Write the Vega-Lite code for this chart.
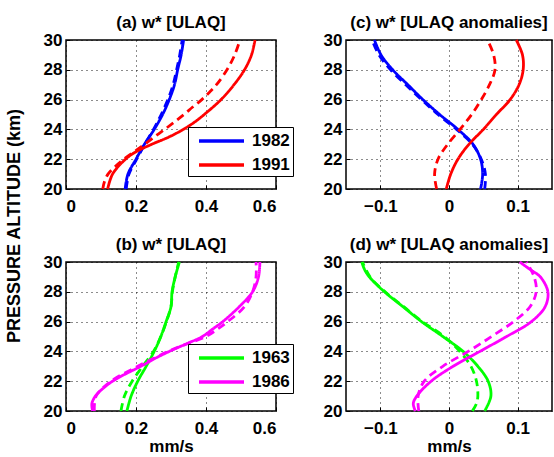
{
 "$schema": "https://vega.github.io/schema/vega-lite/v6.json",
 "background": "white",
 "padding": {"left": 4, "top": 13, "right": 0, "bottom": 0},
 "config": {
  "font": "Liberation Sans",
  "view": {"stroke": "black", "strokeWidth": 1.5},
  "axis": {"labelFont": "Liberation Sans", "labelFontSize": 17, "labelFontWeight": "bold", "labelColor": "black",
   "titleFont": "Liberation Sans", "titleFontSize": 17, "titleFontWeight": "bold", "titleColor": "black",
   "grid": true, "gridColor": "black", "gridDash": [1, 4], "gridWidth": 1, "gridOpacity": 0.9,
   "domain": false, "ticks": true, "tickSize": -4, "tickColor": "black", "tickWidth": 1, "format": "~g"},
  "axisX": {"labelPadding": 13, "titlePadding": 2},
  "axisY": {"labelPadding": 8},
  "title": {"font": "Liberation Sans", "fontSize": 17, "fontWeight": "bold", "color": "black", "frame": "group", "anchor": "middle", "baseline": "alphabetic", "offset": -1},
  "legend": {"orient": "none", "legendX": 122, "legendY": 87, "title": null, "symbolType": "M-0.333,0H4.667", "symbolSize": 324,
   "symbolStrokeWidth": 3.5, "labelFont": "Liberation Sans", "labelFontSize": 17, "labelFontWeight": "bold", "labelColor": "black",
   "labelOffset": 39, "rowPadding": 5, "padding": 3, "strokeColor": "black", "fillColor": "white", "symbolFillColor": "transparent"}
 },
 "datasets": {
  "a": [
   {"year":"1982","run":"R1","alt":20,"w":0.169},{"year":"1982","run":"R1","alt":21,"w":0.177},{"year":"1982","run":"R1","alt":22,"w":0.2},{"year":"1982","run":"R1","alt":23,"w":0.224},{"year":"1982","run":"R1","alt":24,"w":0.252},{"year":"1982","run":"R1","alt":25,"w":0.276},{"year":"1982","run":"R1","alt":26,"w":0.295},{"year":"1982","run":"R1","alt":27,"w":0.31},{"year":"1982","run":"R1","alt":28,"w":0.319},{"year":"1982","run":"R1","alt":29,"w":0.329},{"year":"1982","run":"R1","alt":30,"w":0.336},
   {"year":"1982","run":"R2","alt":20,"w":0.172},{"year":"1982","run":"R2","alt":21,"w":0.18},{"year":"1982","run":"R2","alt":22,"w":0.202},{"year":"1982","run":"R2","alt":23,"w":0.225},{"year":"1982","run":"R2","alt":24,"w":0.25},{"year":"1982","run":"R2","alt":25,"w":0.272},{"year":"1982","run":"R2","alt":26,"w":0.291},{"year":"1982","run":"R2","alt":27,"w":0.306},{"year":"1982","run":"R2","alt":28,"w":0.316},{"year":"1982","run":"R2","alt":29,"w":0.325},{"year":"1982","run":"R2","alt":30,"w":0.332},
   {"year":"1991","run":"R1","alt":20,"w":0.119},{"year":"1991","run":"R1","alt":21,"w":0.133},{"year":"1991","run":"R1","alt":22,"w":0.17},{"year":"1991","run":"R1","alt":22.5,"w":0.2},{"year":"1991","run":"R1","alt":23,"w":0.245},{"year":"1991","run":"R1","alt":23.5,"w":0.295},{"year":"1991","run":"R1","alt":24,"w":0.335},{"year":"1991","run":"R1","alt":24.5,"w":0.368},{"year":"1991","run":"R1","alt":25,"w":0.395},{"year":"1991","run":"R1","alt":26,"w":0.443},{"year":"1991","run":"R1","alt":27,"w":0.48},{"year":"1991","run":"R1","alt":28,"w":0.51},{"year":"1991","run":"R1","alt":29,"w":0.53},{"year":"1991","run":"R1","alt":30,"w":0.54},
   {"year":"1991","run":"R2","alt":20,"w":0.105},{"year":"1991","run":"R2","alt":20.5,"w":0.11},{"year":"1991","run":"R2","alt":21,"w":0.12},{"year":"1991","run":"R2","alt":21.5,"w":0.14},{"year":"1991","run":"R2","alt":22,"w":0.165},{"year":"1991","run":"R2","alt":22.5,"w":0.195},{"year":"1991","run":"R2","alt":23,"w":0.225},{"year":"1991","run":"R2","alt":23.5,"w":0.253},{"year":"1991","run":"R2","alt":24,"w":0.282},{"year":"1991","run":"R2","alt":24.5,"w":0.31},{"year":"1991","run":"R2","alt":25,"w":0.337},{"year":"1991","run":"R2","alt":25.5,"w":0.362},{"year":"1991","run":"R2","alt":26,"w":0.388},{"year":"1991","run":"R2","alt":26.5,"w":0.41},{"year":"1991","run":"R2","alt":27,"w":0.43},{"year":"1991","run":"R2","alt":28,"w":0.46},{"year":"1991","run":"R2","alt":29,"w":0.482},{"year":"1991","run":"R2","alt":30,"w":0.497}
  ],
  "c": [
   {"year":"1982","run":"R1","alt":20,"w":0.046},{"year":"1982","run":"R1","alt":21,"w":0.049},{"year":"1982","run":"R1","alt":22,"w":0.046},{"year":"1982","run":"R1","alt":23,"w":0.035},{"year":"1982","run":"R1","alt":24,"w":0.013},{"year":"1982","run":"R1","alt":25,"w":-0.0136},{"year":"1982","run":"R1","alt":26,"w":-0.038},{"year":"1982","run":"R1","alt":27,"w":-0.06},{"year":"1982","run":"R1","alt":28,"w":-0.082},{"year":"1982","run":"R1","alt":29,"w":-0.099},{"year":"1982","run":"R1","alt":30,"w":-0.1085},
   {"year":"1982","run":"R2","alt":20,"w":0.052},{"year":"1982","run":"R2","alt":21,"w":0.053},{"year":"1982","run":"R2","alt":22,"w":0.047},{"year":"1982","run":"R2","alt":23,"w":0.034},{"year":"1982","run":"R2","alt":24,"w":0.011},{"year":"1982","run":"R2","alt":25,"w":-0.016},{"year":"1982","run":"R2","alt":26,"w":-0.04},{"year":"1982","run":"R2","alt":27,"w":-0.063},{"year":"1982","run":"R2","alt":28,"w":-0.085},{"year":"1982","run":"R2","alt":29,"w":-0.102},{"year":"1982","run":"R2","alt":30,"w":-0.112},
   {"year":"1991","run":"R1","alt":20,"w":-0.004},{"year":"1991","run":"R1","alt":21,"w":0.0025},{"year":"1991","run":"R1","alt":22,"w":0.013},{"year":"1991","run":"R1","alt":23,"w":0.029},{"year":"1991","run":"R1","alt":24,"w":0.05},{"year":"1991","run":"R1","alt":25,"w":0.069},{"year":"1991","run":"R1","alt":26,"w":0.089},{"year":"1991","run":"R1","alt":27,"w":0.102},{"year":"1991","run":"R1","alt":28,"w":0.108},{"year":"1991","run":"R1","alt":29,"w":0.107},{"year":"1991","run":"R1","alt":30,"w":0.098},
   {"year":"1991","run":"R2","alt":20,"w":-0.018},{"year":"1991","run":"R2","alt":21,"w":-0.021},{"year":"1991","run":"R2","alt":22,"w":-0.016},{"year":"1991","run":"R2","alt":23,"w":-0.002},{"year":"1991","run":"R2","alt":24,"w":0.016},{"year":"1991","run":"R2","alt":25,"w":0.033},{"year":"1991","run":"R2","alt":26,"w":0.047},{"year":"1991","run":"R2","alt":27,"w":0.059},{"year":"1991","run":"R2","alt":28,"w":0.067},{"year":"1991","run":"R2","alt":29,"w":0.065},{"year":"1991","run":"R2","alt":30,"w":0.056}
  ],
  "b": [
   {"year":"1963","run":"R1","alt":20,"w":0.174},{"year":"1963","run":"R1","alt":21,"w":0.186},{"year":"1963","run":"R1","alt":22,"w":0.205},{"year":"1963","run":"R1","alt":23,"w":0.229},{"year":"1963","run":"R1","alt":24,"w":0.252},{"year":"1963","run":"R1","alt":25,"w":0.271},{"year":"1963","run":"R1","alt":26,"w":0.286},{"year":"1963","run":"R1","alt":27,"w":0.3},{"year":"1963","run":"R1","alt":28,"w":0.303},{"year":"1963","run":"R1","alt":29,"w":0.312},{"year":"1963","run":"R1","alt":30,"w":0.324},
   {"year":"1963","run":"R2","alt":20,"w":0.157},{"year":"1963","run":"R2","alt":21,"w":0.167},{"year":"1963","run":"R2","alt":22,"w":0.189},{"year":"1963","run":"R2","alt":23,"w":0.219},{"year":"1963","run":"R2","alt":24,"w":0.25},{"year":"1963","run":"R2","alt":25,"w":0.271},{"year":"1963","run":"R2","alt":26,"w":0.287},{"year":"1963","run":"R2","alt":27,"w":0.3},{"year":"1963","run":"R2","alt":28,"w":0.304},{"year":"1963","run":"R2","alt":29,"w":0.312},{"year":"1963","run":"R2","alt":30,"w":0.322},
   {"year":"1986","run":"R1","alt":20,"w":0.076},{"year":"1986","run":"R1","alt":20.5,"w":0.074},{"year":"1986","run":"R1","alt":21,"w":0.084},{"year":"1986","run":"R1","alt":21.5,"w":0.105},{"year":"1986","run":"R1","alt":22,"w":0.133},{"year":"1986","run":"R1","alt":22.5,"w":0.171},{"year":"1986","run":"R1","alt":23,"w":0.214},{"year":"1986","run":"R1","alt":23.5,"w":0.252},{"year":"1986","run":"R1","alt":24,"w":0.295},{"year":"1986","run":"R1","alt":24.5,"w":0.343},{"year":"1986","run":"R1","alt":25,"w":0.39},{"year":"1986","run":"R1","alt":25.5,"w":0.419},{"year":"1986","run":"R1","alt":26,"w":0.448},{"year":"1986","run":"R1","alt":27,"w":0.495},{"year":"1986","run":"R1","alt":28,"w":0.533},{"year":"1986","run":"R1","alt":29,"w":0.55},{"year":"1986","run":"R1","alt":30,"w":0.554},
   {"year":"1986","run":"R2","alt":20,"w":0.081},{"year":"1986","run":"R2","alt":21,"w":0.086},{"year":"1986","run":"R2","alt":22,"w":0.129},{"year":"1986","run":"R2","alt":23,"w":0.205},{"year":"1986","run":"R2","alt":24,"w":0.292},{"year":"1986","run":"R2","alt":24.5,"w":0.345},{"year":"1986","run":"R2","alt":25,"w":0.4},{"year":"1986","run":"R2","alt":25.5,"w":0.433},{"year":"1986","run":"R2","alt":26,"w":0.462},{"year":"1986","run":"R2","alt":27,"w":0.51},{"year":"1986","run":"R2","alt":28,"w":0.533},{"year":"1986","run":"R2","alt":29,"w":0.543},{"year":"1986","run":"R2","alt":30,"w":0.543}
  ],
  "d": [
   {"year":"1963","run":"R1","alt":20,"w":0.052},{"year":"1963","run":"R1","alt":21,"w":0.061},{"year":"1963","run":"R1","alt":22,"w":0.057},{"year":"1963","run":"R1","alt":23,"w":0.042},{"year":"1963","run":"R1","alt":24,"w":0.0205},{"year":"1963","run":"R1","alt":25,"w":-0.009},{"year":"1963","run":"R1","alt":26,"w":-0.04},{"year":"1963","run":"R1","alt":27,"w":-0.067},{"year":"1963","run":"R1","alt":28,"w":-0.094},{"year":"1963","run":"R1","alt":29,"w":-0.116},{"year":"1963","run":"R1","alt":29.5,"w":-0.123},{"year":"1963","run":"R1","alt":30,"w":-0.127},
   {"year":"1963","run":"R2","alt":20,"w":0.034},{"year":"1963","run":"R2","alt":20.5,"w":0.04},{"year":"1963","run":"R2","alt":21,"w":0.042},{"year":"1963","run":"R2","alt":22,"w":0.04},{"year":"1963","run":"R2","alt":23,"w":0.032},{"year":"1963","run":"R2","alt":24,"w":0.0156},{"year":"1963","run":"R2","alt":25,"w":-0.007},{"year":"1963","run":"R2","alt":26,"w":-0.039},{"year":"1963","run":"R2","alt":27,"w":-0.066},{"year":"1963","run":"R2","alt":28,"w":-0.093},{"year":"1963","run":"R2","alt":29,"w":-0.115},{"year":"1963","run":"R2","alt":30,"w":-0.126},
   {"year":"1986","run":"R1","alt":20,"w":-0.049},{"year":"1986","run":"R1","alt":20.5,"w":-0.052},{"year":"1986","run":"R1","alt":21,"w":-0.047},{"year":"1986","run":"R1","alt":22,"w":-0.026},{"year":"1986","run":"R1","alt":23,"w":0.006},{"year":"1986","run":"R1","alt":24,"w":0.045},{"year":"1986","run":"R1","alt":25,"w":0.084},{"year":"1986","run":"R1","alt":26,"w":0.12},{"year":"1986","run":"R1","alt":27,"w":0.14},{"year":"1986","run":"R1","alt":28,"w":0.144},{"year":"1986","run":"R1","alt":29,"w":0.133},{"year":"1986","run":"R1","alt":29.5,"w":0.118},{"year":"1986","run":"R1","alt":30,"w":0.103},
   {"year":"1986","run":"R2","alt":20,"w":-0.044},{"year":"1986","run":"R2","alt":21,"w":-0.045},{"year":"1986","run":"R2","alt":22,"w":-0.036},{"year":"1986","run":"R2","alt":23,"w":-0.009},{"year":"1986","run":"R2","alt":24,"w":0.028},{"year":"1986","run":"R2","alt":25,"w":0.062},{"year":"1986","run":"R2","alt":26,"w":0.094},{"year":"1986","run":"R2","alt":27,"w":0.118},{"year":"1986","run":"R2","alt":28,"w":0.127},{"year":"1986","run":"R2","alt":29,"w":0.124},{"year":"1986","run":"R2","alt":30,"w":0.113}
  ]
 },
 "columns": 2,
 "bounds": "flush",
 "spacing": {"row": 73, "column": 70},
 "resolve": {"scale": {"color": "independent", "strokeDash": "independent", "x": "independent", "y": "independent"}, "legend": {"color": "independent"}},
 "concat": [
  {
   "title": "(a) w* [ULAQ]",
   "width": 210, "height": 149,
   "data": {"name": "a"},
   "mark": {"type": "line", "strokeWidth": 2.8, "interpolate": "catmull-rom"},
   "encoding": {
    "x": {"field": "w", "type": "quantitative", "scale": {"domain": [0, 0.6], "nice": false, "zero": false}, "axis": {"values": [0, 0.2, 0.4, 0.6], "title": null}},
    "y": {"field": "alt", "type": "quantitative", "scale": {"domain": [20, 30], "nice": false, "zero": false}, "axis": {"values": [20, 22, 24, 26, 28, 30], "title": "PRESSURE ALTITUDE (km)", "titleX": -43, "titleY": 185.5, "titleFontSize": 18}},
    "color": {"field": "year", "type": "nominal", "scale": {"domain": ["1982", "1991"], "range": ["#0000ff", "#ff0000"]}},
    "strokeDash": {"field": "run", "type": "nominal", "scale": {"domain": ["R1", "R2"], "range": [[1, 0], [8, 5]]}, "legend": null},
    "order": {"field": "alt", "type": "quantitative"}
   }
  },
  {
   "title": "(c) w* [ULAQ anomalies]",
   "width": 206, "height": 149,
   "data": {"name": "c"},
   "mark": {"type": "line", "strokeWidth": 2.8, "interpolate": "catmull-rom"},
   "encoding": {
    "x": {"field": "w", "type": "quantitative", "scale": {"domain": [-0.15, 0.15], "nice": false, "zero": false}, "axis": {"values": [-0.1, 0, 0.1], "title": null}},
    "y": {"field": "alt", "type": "quantitative", "scale": {"domain": [20, 30], "nice": false, "zero": false}, "axis": {"values": [20, 22, 24, 26, 28, 30], "title": null}},
    "color": {"field": "year", "type": "nominal", "scale": {"domain": ["1982", "1991"], "range": ["#0000ff", "#ff0000"]}, "legend": null},
    "strokeDash": {"field": "run", "type": "nominal", "scale": {"domain": ["R1", "R2"], "range": [[1, 0], [8, 5]]}, "legend": null},
    "order": {"field": "alt", "type": "quantitative"}
   }
  },
  {
   "title": "(b) w* [ULAQ]",
   "width": 210, "height": 149,
   "data": {"name": "b"},
   "mark": {"type": "line", "strokeWidth": 2.8, "interpolate": "catmull-rom"},
   "encoding": {
    "x": {"field": "w", "type": "quantitative", "scale": {"domain": [0, 0.6], "nice": false, "zero": false}, "axis": {"values": [0, 0.2, 0.4, 0.6], "title": "mm/s"}},
    "y": {"field": "alt", "type": "quantitative", "scale": {"domain": [20, 30], "nice": false, "zero": false}, "axis": {"values": [20, 22, 24, 26, 28, 30], "title": null}},
    "color": {"field": "year", "type": "nominal", "scale": {"domain": ["1963", "1986"], "range": ["#00ff00", "#ff00ff"]}, "legend": {"legendY": 82}},
    "strokeDash": {"field": "run", "type": "nominal", "scale": {"domain": ["R1", "R2"], "range": [[1, 0], [8, 5]]}, "legend": null},
    "order": {"field": "alt", "type": "quantitative"}
   }
  },
  {
   "title": "(d) w* [ULAQ anomalies]",
   "width": 206, "height": 149,
   "data": {"name": "d"},
   "mark": {"type": "line", "strokeWidth": 2.8, "interpolate": "catmull-rom"},
   "encoding": {
    "x": {"field": "w", "type": "quantitative", "scale": {"domain": [-0.15, 0.15], "nice": false, "zero": false}, "axis": {"values": [-0.1, 0, 0.1], "title": "mm/s"}},
    "y": {"field": "alt", "type": "quantitative", "scale": {"domain": [20, 30], "nice": false, "zero": false}, "axis": {"values": [20, 22, 24, 26, 28, 30], "title": null}},
    "color": {"field": "year", "type": "nominal", "scale": {"domain": ["1963", "1986"], "range": ["#00ff00", "#ff00ff"]}, "legend": null},
    "strokeDash": {"field": "run", "type": "nominal", "scale": {"domain": ["R1", "R2"], "range": [[1, 0], [8, 5]]}, "legend": null},
    "order": {"field": "alt", "type": "quantitative"}
   }
  }
 ]
}
